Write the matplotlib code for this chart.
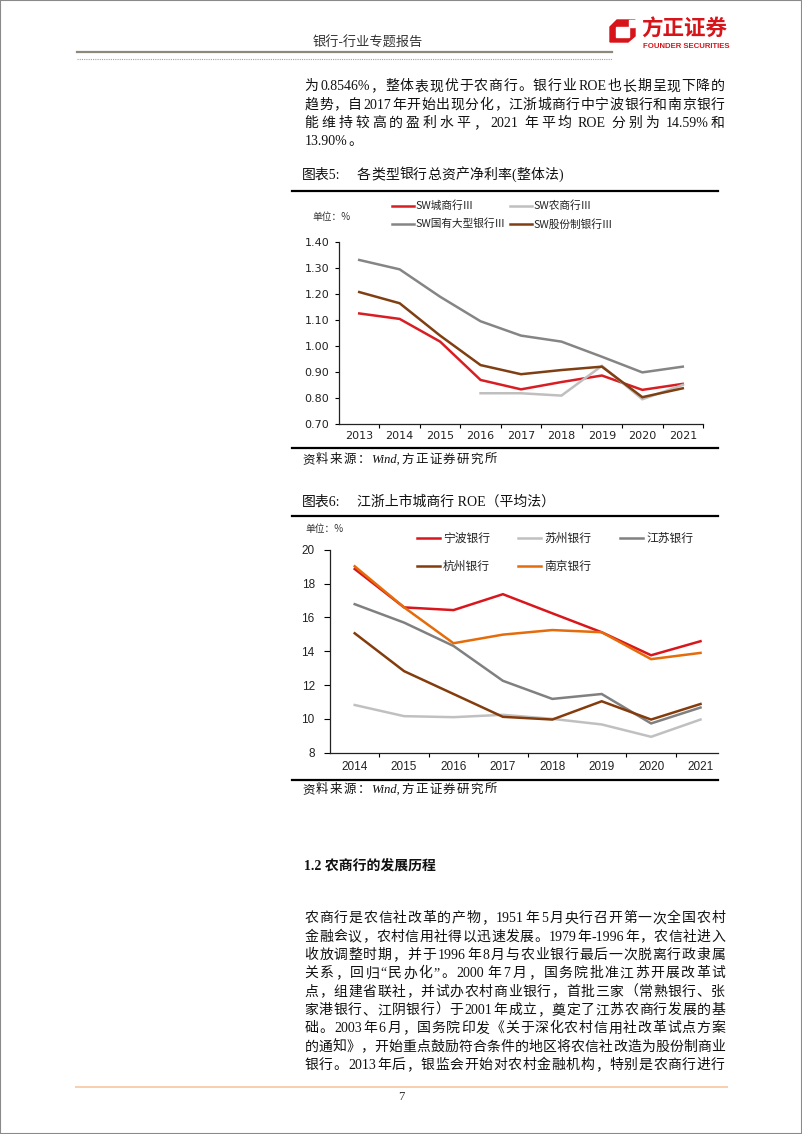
import numpy as np
import matplotlib
matplotlib.use('Agg')
import matplotlib.pyplot as plt
from matplotlib.lines import Line2D
from matplotlib.patches import Polygon, Rectangle
from matplotlib.font_manager import FontProperties

# ---- data ----
years1 = ['2013', '2014', '2015', '2016', '2017', '2018', '2019', '2020', '2021']
city_roa = [1.125, 1.104, 1.017, 0.870, 0.834, 0.862, 0.887, 0.832, 0.855]
rural_roa = [np.nan, np.nan, np.nan, 0.819, 0.819, 0.810, 0.924, 0.796, 0.851]
big_roa = [1.330, 1.294, 1.189, 1.095, 1.040, 1.017, 0.959, 0.899, 0.921]
joint_roa = [1.207, 1.164, 1.040, 0.927, 0.892, 0.908, 0.921, 0.804, 0.838]
names1 = ['SW城商行Ⅲ', 'SW农商行Ⅲ', 'SW国有大型银行Ⅲ', 'SW股份制银行Ⅲ']

years2 = ['2014', '2015', '2016', '2017', '2018', '2019', '2020', '2021']
ningbo = [18.86, 16.59, 16.43, 17.37, 16.24, 15.12, 13.76, 14.59]
suzhou = [10.82, 10.16, 10.10, 10.24, 10.00, 9.67, 8.94, 9.96]
jiangsu = [16.78, 15.69, 14.31, 12.25, 11.18, 11.47, 9.73, 10.67]
hangzhou = [15.06, 12.82, 11.47, 10.12, 9.96, 11.04, 9.96, 10.88]
nanjing = [19.02, 16.59, 14.47, 14.98, 15.25, 15.12, 13.53, 13.90]
names2 = ['宁波银行', '苏州银行', '江苏银行', '杭州银行', '南京银行']

para1 = ['为 0.8546%，整体表现优于农商行。银行业 ROE 也长期呈现下降的',
         '趋势，自 2017 年开始出现分化，江浙城商行中宁波银行和南京银行',
         '能维持较高的盈利水平，2021 年平均 ROE 分别为 14.59%和',
         '13.90%。']
para2 = ['农商行是农信社改革的产物，1951 年 5 月央行召开第一次全国农村',
         '金融会议，农村信用社得以迅速发展。1979 年-1996 年，农信社进入',
         '收放调整时期，并于 1996 年 8 月与农业银行最后一次脱离行政隶属',
         '关系，回归“民办化”。2000 年 7 月，国务院批准江苏开展改革试',
         '点，组建省联社，并试办农村商业银行，首批三家（常熟银行、张',
         '家港银行、江阴银行）于 2001 年成立，奠定了江苏农商行发展的基',
         '础。2003 年 6 月，国务院印发《关于深化农村信用社改革试点方案',
         '的通知》，开始重点鼓励符合条件的地区将农信社改造为股份制商业',
         '银行。2013 年后，银监会开始对农村金融机构，特别是农商行进行']

SERIF = ['Liberation Serif', 'Noto Sans CJK SC']
SANS = ['Liberation Sans', 'Noto Sans CJK SC']
CJK = ['Noto Sans CJK SC', 'DejaVu Sans']

W, H = 802, 1134
fig = plt.figure(figsize=(W / 100, H / 100), dpi=100)
renderer = fig.canvas.get_renderer()


def fx(x):
    return x / W


def fy(y):
    return 1 - y / H


def hline(x0, x1, y, **kw):
    fig.add_artist(Line2D([fx(x0), fx(x1)], [fy(y), fy(y)], **kw))


def txt(x, y, s, **kw):
    kw.setdefault('va', 'center')
    fig.text(fx(x), fy(y), s, **kw)


def split_tokens(s):
    toks = []
    buf, buf_sp, spaced = '', False, False
    for ch in s:
        if ch == ' ':
            if buf:
                toks.append((buf, buf_sp))
                buf = ''
            spaced = True
        elif ord(ch) < 128:
            if not buf:
                buf_sp = spaced
                spaced = False
            buf += ch
        else:
            if buf:
                toks.append((buf, buf_sp))
                buf = ''
            toks.append((ch, spaced))
            spaced = False
    if buf:
        toks.append((buf, buf_sp))
    return toks


def text_line(s, y, x0, x1, prop, justify=True, color='#111111'):
    toks = split_tokens(s)
    widths = [renderer.get_text_width_height_descent(t, prop, False)[0] for t, _ in toks]
    wts = [0] + [2 if sp else 1 for _, sp in toks[1:]]
    if justify:
        unit = (x1 - x0 - sum(widths)) / max(sum(wts), 1)
    else:
        unit = 1.5
    x = x0
    for (t, _), w, k in zip(toks, widths, wts):
        x += unit * k
        fig.text(fx(x), fy(y), t, fontproperties=prop, va='center', ha='left', color=color)
        x += w


# ---- page frame / header ----
fig.add_artist(Rectangle((0, 0), 1, 1, fill=False, edgecolor='#8a8a8a', lw=1.5,
                         transform=fig.transFigure))
hline(77, 612, 52, color='#8e877c', lw=1.6)
hline(77, 612, 59, color='#a0a0a0', lw=0.8, ls=(0, (1, 1)))
txt(368, 43, '银行-行业专题报告', ha='center', fontsize=9.5, family=SERIF, color='#333333')

# logo
icon = [(610, 27), (617, 20), (635, 20), (635, 36), (628, 42), (610, 42)]
fig.add_artist(Polygon([(fx(a), fy(b)) for a, b in icon], closed=True, color='#d7141a',
                       transform=fig.transFigure))
hole = [(616, 27), (629, 27), (629, 37), (616, 37)]
fig.add_artist(Polygon([(fx(a), fy(b)) for a, b in hole], closed=True, color='white',
                       transform=fig.transFigure))
notch = [(629, 20), (635, 20), (635, 27), (629, 27)]
fig.add_artist(Polygon([(fx(a), fy(b)) for a, b in notch], closed=True, color='white',
                       transform=fig.transFigure))
txt(641, 29, '方正证券', ha='left', fontsize=15.5, family=CJK, weight='bold', color='#d7141a')
txt(643, 46, 'FOUNDER SECURITIES', ha='left', fontsize=5.6, family=SANS, weight='bold',
    color='#d7141a')

body = FontProperties(family=SERIF, size=10)
title = FontProperties(family=SERIF, size=10)
source = FontProperties(family=SERIF, size=9, style='italic')

for i, s in enumerate(para1):
    text_line(s, 86.7 + i * 18.4, 304.5, 725, body, justify=(i < len(para1) - 1))

# ---- chart 5 ----
txt(302, 175, '图表5:', ha='left', fontsize=10, family=SERIF, color='#111111')
text_line('各类型银行总资产净利率(整体法)', 175, 357, 563, title)
hline(292, 718, 191, color='black', lw=1.6)
txt(312, 217, '单位：%', ha='left', fontsize=7, family=CJK, color='#333333')

ax1 = fig.add_axes([fx(339), fy(424.3), (703 - 339) / W, (424.3 - 241.7) / H])
x1 = np.arange(len(years1))
cols1 = ['#d81e22', '#bfbfbf', '#858585', '#7f3f12']
series1 = [city_roa, rural_roa, big_roa, joint_roa]
order1 = [2, 0, 1, 3]
for k in order1:
    ax1.plot(x1, series1[k], color=cols1[k], lw=1.8, solid_joinstyle='miter')
ax1.set_xlim(-0.5, len(years1) - 0.5)
ax1.set_ylim(0.70, 1.40)
ax1.set_yticks(np.arange(0.70, 1.401, 0.10))
ax1.set_yticklabels(['%.2f' % v for v in np.arange(0.70, 1.401, 0.10)])
ax1.set_xticks(np.arange(0.5, len(years1), 1.0))
ax1.set_xticklabels([])
ax1.set_xticks(x1, minor=True)
ax1.set_xticklabels(years1, minor=True)
ax1.tick_params(axis='x', which='major', length=3, width=0.8, direction='out')
ax1.tick_params(axis='x', which='minor', length=0, pad=5, labelsize=8, labelcolor='#222222')
ax1.tick_params(axis='y', length=3, width=0.8, pad=4, labelsize=8, labelcolor='#222222')
for lab in ax1.get_xticklabels(minor=True) + ax1.get_yticklabels():
    lab.set_family('DejaVu Sans')
for sp in ['top', 'right']:
    ax1.spines[sp].set_visible(False)
for sp in ['left', 'bottom']:
    ax1.spines[sp].set_linewidth(0.9)
    ax1.spines[sp].set_color('#222222')

leg1 = [(392, 205.7), (510, 205.7), (392, 224), (510, 224)]
for (lx, ly), name, c in zip(leg1, names1, cols1):
    hline(lx, lx + 22, ly, color=c, lw=1.8)
    txt(lx + 23, ly, name, ha='left', fontsize=7.7, family=CJK, color='#222222')

hline(292, 718, 448, color='black', lw=1.6)
text_line('资料来源：Wind,方正证券研究所', 460, 302, 497, source)

# ---- chart 6 ----
txt(302, 502, '图表6:', ha='left', fontsize=10, family=SERIF, color='#111111')
txt(357, 502, '江浙上市城商行 ROE（平均法）', ha='left', fontsize=10, family=SERIF,
    color='#111111')
hline(292, 718, 516, color='black', lw=1.6)
txt(305, 529, '单位：%', ha='left', fontsize=7, family=CJK, color='#333333')

ax2 = fig.add_axes([fx(330), fy(752.7), (718 - 330) / W, (752.7 - 549.7) / H])
x2 = np.arange(len(years2))
cols2 = ['#d9161c', '#c0c0c0', '#808080', '#843c0c', '#e46c0a']
series2 = [ningbo, suzhou, jiangsu, hangzhou, nanjing]
for k in [1, 2, 0, 4, 3]:
    ax2.plot(x2, series2[k], color=cols2[k], lw=1.8, solid_joinstyle='miter')
ax2.set_xlim(-0.5, 7.354)
ax2.set_ylim(8, 20)
ax2.set_yticks(np.arange(8, 21, 2))
ax2.set_xticks(np.arange(0.5, len(years2) - 1, 1.0))
ax2.set_xticklabels([])
ax2.set_xticks(x2, minor=True)
ax2.set_xticklabels(years2, minor=True)
ax2.tick_params(axis='x', which='major', length=3, width=0.8, direction='out')
ax2.tick_params(axis='x', which='minor', length=0, pad=6, labelsize=8.5, labelcolor='#222222')
ax2.tick_params(axis='y', length=4, width=0.8, pad=7, labelsize=8.5, labelcolor='#222222')
for lab in ax2.get_xticklabels(minor=True) + ax2.get_yticklabels():
    lab.set_family('Liberation Sans')
for sp in ['top', 'right']:
    ax2.spines[sp].set_visible(False)
for sp in ['left', 'bottom']:
    ax2.spines[sp].set_linewidth(0.9)
    ax2.spines[sp].set_color('#222222')

leg2 = [(417, 538), (518, 538), (620, 538), (417, 566), (518, 566)]
for (lx, ly), name, c in zip(leg2, names2, cols2):
    hline(lx, lx + 23, ly, color=c, lw=1.8)
    txt(lx + 26, ly, name, ha='left', fontsize=8.5, family=CJK, color='#222222')

hline(292, 718, 780, color='black', lw=1.6)
text_line('资料来源：Wind,方正证券研究所', 790, 302, 497, source)

# ---- section 1.2 ----
txt(304, 866, '1.2 农商行的发展历程', ha='left', fontsize=10, family=SERIF, weight='bold',
    color='#111111')
for i, s in enumerate(para2):
    text_line(s, 918.7 + i * 18.35, 304.5, 725, body, justify=True)

hline(76, 727, 1087, color='#f8cfae', lw=1.4)
txt(401, 1097, '7', ha='center', fontsize=9, family=SERIF, color='#333333')

fig.savefig('out.png', dpi=100)
